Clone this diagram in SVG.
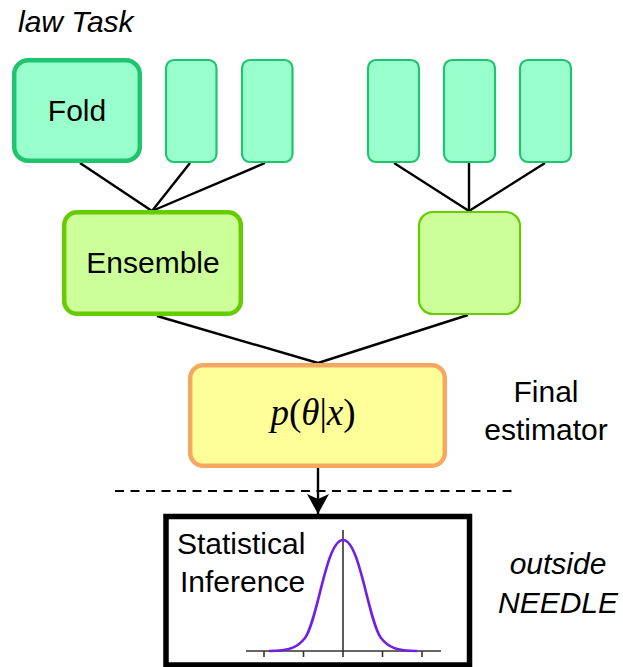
<svg xmlns="http://www.w3.org/2000/svg" width="623" height="667" viewBox="0 0 623 667">
  <style>
    .lbl { font-family: "Liberation Sans", Arial, sans-serif; font-size: 30px; fill: #000; }
    .it { font-style: italic; }
    .mid { text-anchor: middle; }
    .fold { fill: #99ffcc; stroke: #1ec46e; }
    .ens { fill: #ccff99; stroke: #66cc00; }
    .final { fill: #ffff99; stroke: #f6a862; stroke-width: 4.5; }
    .edge { stroke: #000; stroke-width: 2.4; fill: none; }
    .math { font-family: "Liberation Serif", "Times New Roman", serif; font-size: 37px; fill: #000; }
  </style>
  <defs>
    <marker id="arrow" markerWidth="20" markerHeight="22" refX="20" refY="11" orient="auto" markerUnits="userSpaceOnUse" viewBox="0 0 20 22">
      <path d="M0,0 L20,11 L0,22 L5,11 Z" fill="#000"/>
    </marker>
  </defs>

  <rect width="623" height="667" fill="#fff"/>

  <!-- titles and side notes -->
  <text class="lbl it" x="18" y="32">law Task</text>
  <g id="note-final">
    <text class="lbl mid" x="546" y="402">Final</text>
    <text class="lbl mid" x="546" y="440">estimator</text>
  </g>
  <g id="note-outside">
    <text class="lbl it mid" x="558" y="574">outside</text>
    <text class="lbl it mid" x="558" y="613">NEEDLE</text>
  </g>

  <!-- connectors -->
  <g id="connectors">
    <line class="edge" x1="80" y1="163" x2="152" y2="211"/>
    <line class="edge" x1="190" y1="163" x2="152" y2="211"/>
    <line class="edge" x1="265" y1="163" x2="152" y2="211"/>
    <line class="edge" x1="394" y1="163" x2="469" y2="211"/>
    <line class="edge" x1="469" y1="163" x2="469" y2="211"/>
    <line class="edge" x1="545" y1="163" x2="469" y2="211"/>
    <line class="edge" x1="157" y1="316" x2="318" y2="363"/>
    <line class="edge" x1="468" y1="315" x2="318" y2="363"/>
    <line x1="115" y1="491" x2="518" y2="491" stroke="#000" stroke-width="2.2" stroke-dasharray="9,6.5"/>
    <line class="edge" x1="318" y1="468" x2="318" y2="514" marker-end="url(#arrow)"/>
  </g>

  <!-- fold models -->
  <g id="fold-1">
    <rect class="fold" x="14.2" y="60.2" width="125.6" height="100.6" rx="14" stroke-width="4.5"/>
    <text class="lbl mid" x="77" y="121">Fold</text>
  </g>
  <g id="fold-2"><rect class="fold" x="166" y="60" width="50.5" height="102" rx="8" stroke-width="2.2"/></g>
  <g id="fold-3"><rect class="fold" x="242" y="60" width="50.5" height="102" rx="8" stroke-width="2.2"/></g>
  <g id="fold-4"><rect class="fold" x="368" y="60" width="51" height="102" rx="8" stroke-width="2.2"/></g>
  <g id="fold-5"><rect class="fold" x="444" y="60" width="51" height="102" rx="8" stroke-width="2.2"/></g>
  <g id="fold-6"><rect class="fold" x="520" y="60" width="51" height="102" rx="8" stroke-width="2.2"/></g>

  <!-- ensembles -->
  <g id="ensemble-1">
    <rect class="ens" x="64.2" y="212.2" width="176.6" height="101.6" rx="13" stroke-width="4.5"/>
    <text class="lbl mid" x="153" y="273">Ensemble</text>
  </g>
  <g id="ensemble-2">
    <rect class="ens" x="419" y="212" width="101" height="102" rx="14" stroke-width="2.2"/>
  </g>

  <!-- final estimator -->
  <g id="final-estimator">
    <rect class="final" x="190.2" y="365.2" width="254.6" height="100.6" rx="13"/>
    <text class="math mid" x="313" y="425"><tspan font-style="italic">p</tspan>(<tspan font-style="italic">θ</tspan>|<tspan font-style="italic">x</tspan>)</text>
  </g>

  <!-- statistical inference -->
  <g id="inference">
    <rect x="166" y="516.5" width="303.5" height="148.5" fill="#fff" stroke="#000" stroke-width="5.5"/>
    <text class="lbl" x="177" y="554">Statistical</text>
    <text class="lbl" x="180" y="592">Inference</text>
    <g stroke="#333" stroke-width="1.6" fill="none">
      <line x1="246" y1="651" x2="441" y2="651"/>
      <line x1="343" y1="530" x2="343" y2="651"/>
      <line x1="264" y1="651" x2="264" y2="657"/>
      <line x1="303.5" y1="651" x2="303.5" y2="657"/>
      <line x1="343" y1="651" x2="343" y2="657"/>
      <line x1="382.5" y1="651" x2="382.5" y2="657"/>
      <line x1="422" y1="651" x2="422" y2="657"/>
    </g>
    <path d="M269,651 C290,651 298,647 305,638 C318,620 326,540 343,540 C360,540 368,620 381,638 C388,647 396,651 417,651" fill="none" stroke="#7020e6" stroke-width="2.6"/>
  </g>
</svg>
